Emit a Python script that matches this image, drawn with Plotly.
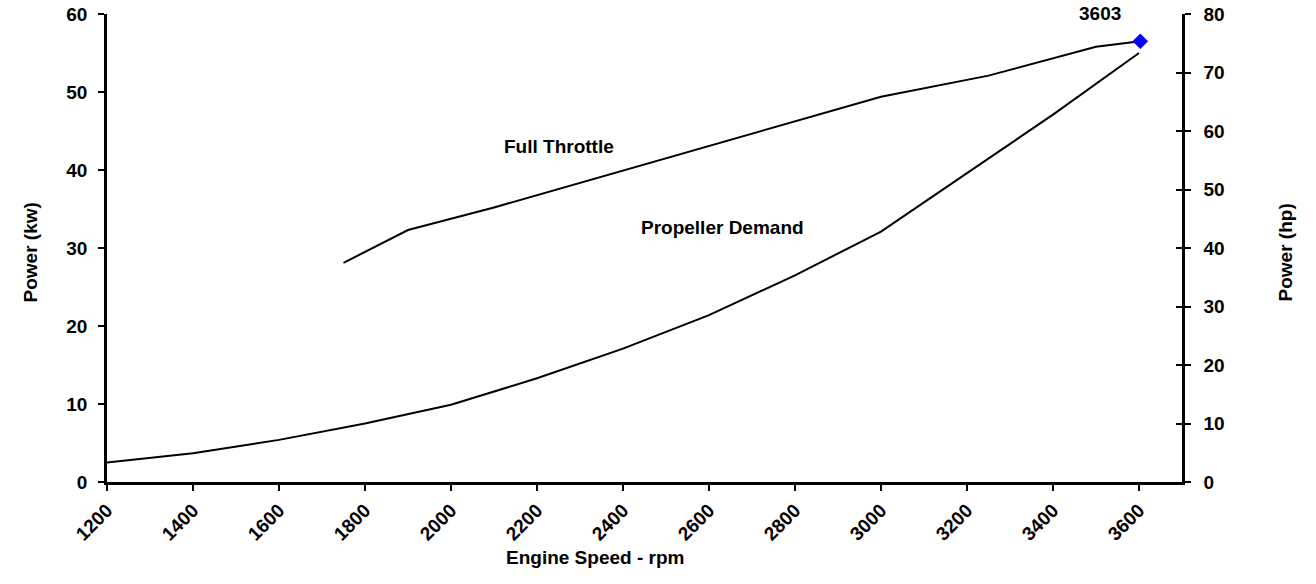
import plotly.graph_objects as go

# ---- data ----
ft_rpm = [1750, 1900, 2100, 3000, 3250, 3500, 3603]
ft_kw = [28.1, 32.3, 35.2, 49.4, 52.1, 55.8, 56.5]

prop_rpm = [1200, 1400, 1600, 1800, 2000, 2200, 2400, 2600, 2800, 3000, 3200, 3400, 3600]
prop_kw = [2.5, 3.7, 5.4, 7.5, 9.9, 13.3, 17.1, 21.4, 26.5, 32.1, 39.6, 47.1, 55.0]

rated_rpm = [3603]
rated_kw = [56.5]

FONT = "Liberation Sans, Arial, sans-serif"
FS = 19

fig = go.Figure()
fig.add_trace(go.Scatter(x=prop_rpm, y=prop_kw, mode="lines",
                         line=dict(color="black", width=2), showlegend=False))
fig.add_trace(go.Scatter(x=ft_rpm, y=ft_kw, mode="lines",
                         line=dict(color="black", width=2), showlegend=False))
fig.add_trace(go.Scatter(x=rated_rpm, y=rated_kw, mode="markers",
                         marker=dict(symbol="diamond", size=12, color="#0000FF"),
                         showlegend=False))
# dummy traces to activate right axes
fig.add_trace(go.Scatter(x=[None], y=[None], yaxis="y2", showlegend=False))
fig.add_trace(go.Scatter(x=[None], y=[None], yaxis="y3", showlegend=False))

tickfont = dict(family=FONT, size=FS, color="black", weight="bold")

fig.update_layout(
    width=1316, height=584,
    margin=dict(l=107, r=134, t=14, b=102),
    paper_bgcolor="white", plot_bgcolor="white",
    font=dict(family=FONT, size=FS, color="black"),
    xaxis=dict(range=[1200, 3700], tick0=1200, dtick=200, tickangle=-45,
               showline=True, linecolor="black", linewidth=2.5,
               ticks="outside", ticklen=6, tickwidth=2, tickcolor="black",
               showgrid=False, zeroline=False, tickfont=tickfont,
               ticklabelstandoff=1, automargin=False, ticklabeloverflow="allow"),
    yaxis=dict(range=[0, 60], dtick=10, showline=True, linecolor="black", linewidth=2.5,
               ticks="outside", ticklen=6, tickwidth=2, tickcolor="black",
               showgrid=False, zeroline=False, tickfont=tickfont,
               ticklabelstandoff=7, automargin=False, ticklabeloverflow="allow"),
    yaxis2=dict(range=[0, 80], dtick=10, overlaying="y", side="right", anchor="x",
                showline=True, linecolor="black", linewidth=2.5,
                ticks="outside", ticklen=6, tickwidth=2, tickcolor="black",
                showgrid=False, zeroline=False, tickfont=tickfont,
                ticklabelstandoff=9, automargin=False, ticklabeloverflow="allow"),
    yaxis3=dict(range=[0, 80], dtick=10, overlaying="y", side="right", anchor="x",
                showline=False, ticks="inside", ticklen=6, tickwidth=2, tickcolor="black",
                showticklabels=False, showgrid=False, zeroline=False, automargin=False),
)

ann_font = dict(family=FONT, size=FS, color="black", weight="bold")
fig.add_annotation(x=rated_rpm[0], y=rated_kw[0], text=str(rated_rpm[0]), showarrow=False,
                   xshift=-40, yshift=28, font=ann_font)
fig.add_annotation(x=2252, y=43.0, text="Full Throttle", showarrow=False, font=ann_font)
fig.add_annotation(x=2632, y=32.6, text="Propeller Demand", showarrow=False, font=ann_font)
fig.add_annotation(xref="paper", yref="paper", x=-0.0828, y=0.4915, text="Power (kw)",
                   textangle=-90, showarrow=False, font=ann_font)
fig.add_annotation(xref="paper", yref="paper", x=1.1088, y=0.4915, text="Power (hp)",
                   textangle=-90, showarrow=False, font=ann_font)
fig.add_annotation(xref="paper", yref="paper", x=0.454, y=-0.188, text="Engine Speed - rpm",
                   showarrow=False, font=ann_font)

# remove the default 8px page margin so the figure fills the window exactly
fig.write_html("out.html", config={"displayModeBar": False},
               post_script="document.body.style.margin='0';document.body.style.overflow='hidden';")
